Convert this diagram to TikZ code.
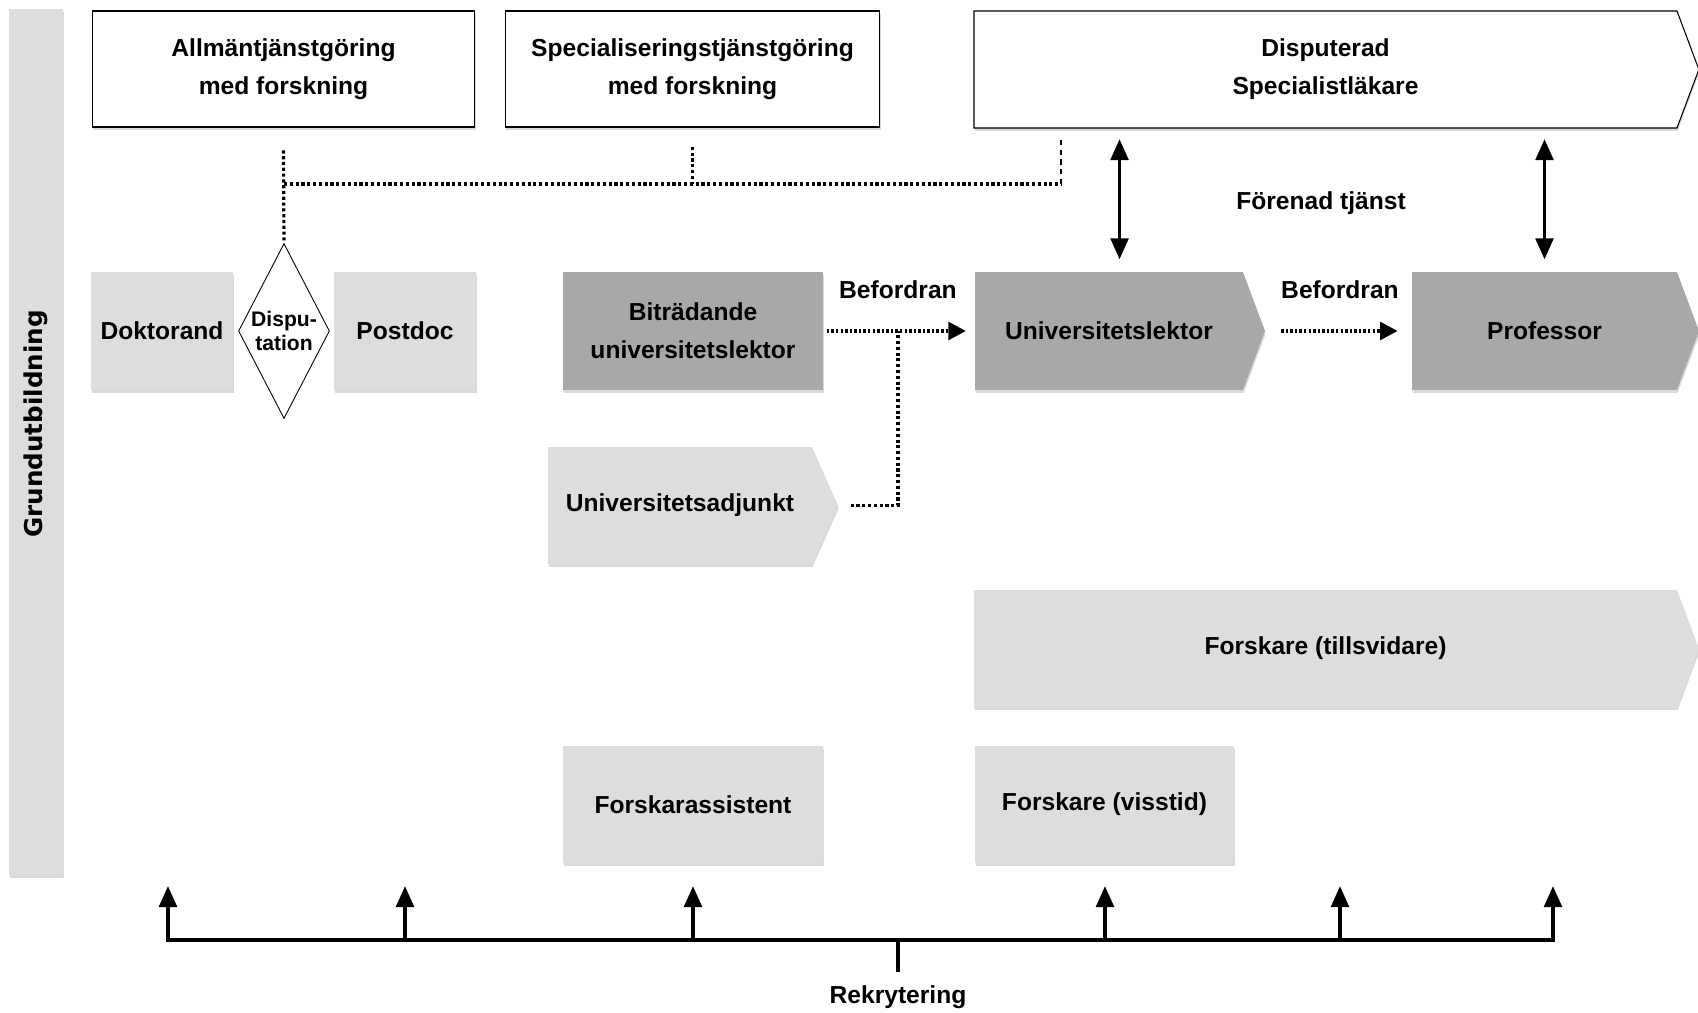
\documentclass[tikz,border=0pt]{standalone}
\usepackage{fontspec}
\setmainfont{Liberation Sans}
\newfontfamily\grundfont{DejaVu Sans}
\usetikzlibrary{shapes.geometric,shapes.symbols,shadows,arrows.meta}
\definecolor{ljusgra}{HTML}{DCDDDF}
\definecolor{morkgra}{HTML}{A7A8A8}

\begin{document}
\begin{tikzpicture}[x=0.02cm,y=-0.02cm,
  font=\fontsize{14}{21.5}\selectfont\bfseries,
  skugga/.style={drop shadow={shadow xshift=0.4pt,shadow yshift=-1.6pt,opacity=0.3}},
  vitbox/.style={draw,line width=0.6pt,fill=white,skugga,align=center,inner sep=0pt},
  ljusbox/.style={fill=ljusgra,skugga,align=center,inner sep=0pt},
  morkbox/.style={fill=morkgra,skugga,align=center,inner sep=0pt},
  pil/.style={signal,signal to=east,signal pointer angle=139},
  tjock/.style={line width=2.2pt,-{Triangle[width=10pt,length=12pt]}},
  dubbel/.style={line width=2.2pt,{Triangle[width=10pt,length=12pt]}-{Triangle[width=10pt,length=12pt]}},
  prickad/.style={line width=1.8pt,dash pattern=on 1.8pt off 1.5pt},
  streckad/.style={line width=0.8pt,dash pattern=on 3pt off 2.5pt},
  befpil/.style={line width=2.2pt,dash pattern=on 1.4pt off 1.2pt,-{Triangle[width=10pt,length=10pt]}}]
\useasboundingbox (0,0) rectangle (1698,1013);

% vanstra stapeln
\node[ljusbox,minimum width=1.08cm,minimum height=17.32cm] (grund) at (36,442) {};
\node[rotate=90,font=\grundfont\bfseries\fontsize{14}{17}\selectfont] (grundtxt) at (36,424) {Grundutbildning};

% kliniska tjanster
\node[vitbox,minimum width=7.66cm,minimum height=2.32cm] (allm) at (283.5,69) {Allmäntjänstgöring\\med forskning};
\node[vitbox,minimum width=7.5cm,minimum height=2.32cm] (spec) at (692.5,69) {Specialiseringstjänstgöring\\med forskning};
\node[vitbox,pil,minimum width=14.5cm,minimum height=2.34cm] (disp) at (1325.5,69.5) {Disputerad\\Specialistläkare};

% akademiska tjanster
\node[ljusbox,minimum width=2.84cm,minimum height=2.36cm] (dokt) at (162,331) {Doktorand};
\node[diamond,draw,fill=white,line width=0.5pt,shape aspect=0.52,minimum width=1.82cm,minimum height=3.5cm,inner sep=0pt,align=center,font=\fontsize{12}{14}\selectfont\bfseries] (disput) at (284,331) {Dispu-\\tation};
\node[ljusbox,minimum width=2.84cm,minimum height=2.36cm] (postdoc) at (405,331) {Postdoc};
\node[morkbox,minimum width=5.2cm,minimum height=2.36cm] (bitr) at (693,331) {Biträdande\\universitetslektor};
\node[morkbox,pil,minimum width=5.8cm,minimum height=2.36cm] (lekt) at (1109,331) {Universitetslektor};
\node[morkbox,pil,minimum width=5.74cm,minimum height=2.36cm] (prof) at (1544.5,331) {Professor};
\node[ljusbox,pil,signal pointer angle=132,minimum width=5.8cm,minimum height=2.34cm] (adj) at (680,505.5) {Universitetsadjunkt};
\node[ljusbox,pil,minimum width=14.5cm,minimum height=2.34cm] (tillsv) at (1325.5,648.5) {Forskare (tillsvidare)};
\node[ljusbox,minimum width=5.2cm,minimum height=2.34cm] (fass) at (693,804.5) {Forskarassistent};
\node[ljusbox,minimum width=5.18cm,minimum height=2.34cm] (visst) at (1104.5,804.5) {Forskare (visstid)};

% etiketter
\node (forenad) at (1321,203) {Förenad tjänst};
\node (bef1) at (898,290) {Befordran};
\node (bef2) at (1340,290) {Befordran};
\node (rekr) at (898,997) {Rekrytering};

% forenad tjanst
\draw[dubbel,shorten <=6pt,shorten >=7pt] ([xshift=6pt]lekt.north |- disp.south) -- ([xshift=6pt]lekt.north);
\draw[dubbel,shorten <=6pt,shorten >=7pt] (disp.south -| prof.north) -- (prof.north);

% befordran
\coordinate (knut) at (898,331);
\draw[befpil,shorten <=2pt,shorten >=5pt] (bitr.east) -- (lekt.west);
\draw[befpil,shorten <=9pt,shorten >=8pt] (lekt.east) -- (prof.west);
\draw[prickad,shorten <=7pt] (adj.east) -| (knut);

% kopplingar till kliniken
\coordinate (topp) at (1061,184);
\draw[prickad] ([yshift=-13pt]allm.south) -- (disput.north);
\draw[prickad] (disput.north |- topp) -- (topp);
\draw[prickad] ([yshift=-11pt]spec.south) -- (spec.south |- topp);
\draw[streckad,shorten >=6pt] (topp) -- (topp |- disp.south);

% rekrytering
\coordinate (rek) at (898,940);
\foreach \x [count=\i] in {168,405,693,1105,1340,1553}
  \coordinate (upp\i) at (\x,886);
\draw[dubbel] (upp1) -- (upp1 |- rek) -- (upp6 |- rek) -- (upp6);
\foreach \i in {2,...,5}
  \draw[tjock] (upp\i |- rek) -- (upp\i);
\draw[line width=2.2pt] (rek) -- ++(0,32);
\end{tikzpicture}
\end{document}
